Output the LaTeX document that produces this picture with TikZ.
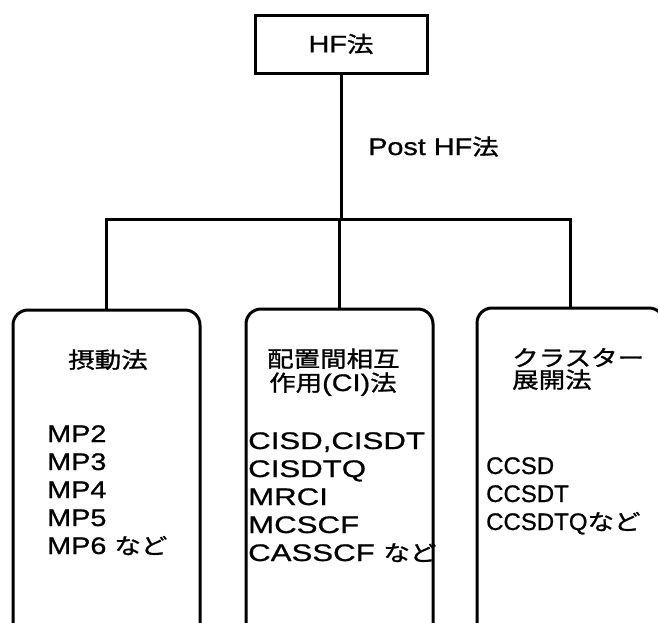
\documentclass[tikz,border=0pt]{standalone}
\usepackage{fontspec}
\setmainfont{Liberation Sans}[FakeStretch = 1.2, FakeBold = 0.8]
\newfontfamily\widefont{Liberation Sans}[FakeStretch = 1.3, FakeBold = 0.8]
\newfontfamily\narrowfont{Liberation Sans}[FakeBold = 0.8]
\newfontfamily\jp{Noto Sans CJK JP}[FakeStretch = 1.2, Scale = 0.92, FakeBold = 1.2]
\usepackage{tikz}
\tikzset{headbox/.style = {shape = rectangle, draw, line width = 3pt, minimum width = 172pt, minimum height = 58pt, inner sep = 0pt, font = \fontsize{24}{28}\selectfont}}
\tikzset{methodbox/.style = {shape = rectangle, draw, line width = 3pt, rounded corners = 15pt, minimum width = 187pt, minimum height = 350pt}}
\tikzset{word/.style = {inner sep = 0pt, font = \fontsize{24}{28}\selectfont}}
\tikzset{link/.style = {-, line width = 3pt}}

\begin{document}
\begin{tikzpicture}[x = 1pt, y = -1pt]
				\useasboundingbox (0, 0) rectangle (658, 622);
				\clip (0, 0) rectangle (658, 622);

				\node[headbox] (hf) at (341, 44) {HF{\jp 法}};
				\node[word, anchor = base west] (post) at (368, 155) {Post HF{\jp 法}};

				\node[methodbox] (pt) at (106.5, 485) {};
				\node[methodbox] (ci) at (339.5, 484) {};
				\node[methodbox] (cc) at (570.5, 483) {};

				% kinds of method
				\node[word, anchor = base] (pttitle) at (108, 368) {\jp 摂動法};
				\node[word, anchor = base west] (cititle) at (267, 367) {\jp 配置間相互};
				\node[word, anchor = base west] (cititleb) at (269, 391) {{\jp 作用}(CI){\jp 法}};
				\node[word, anchor = base west] (cctitle) at (512, 366) {\jp クラスター};
				\node[word, anchor = base west] (cctitleb) at (512, 388) {\jp 展開法};

				% methods in each box
				\foreach \t [count = \i] in {MP2, MP3, MP4, MP5, {MP6 {\jp など}}}
					\node[word, anchor = base west] (mp\i) at (47, {442 + 28*(\i - 1)}) {\t};
				\foreach \t [count = \i] in {{CISD,CISDT}, CISDTQ, MRCI, MCSCF, {CASSCF {\jp など}}}
					\node[word, anchor = base west] (cim\i) at (248, {449 + 28*(\i - 1)}) {\widefont\t};
				\foreach \t [count = \i] in {CCSD, CCSDT, {CCSDTQ{\jp など}}}
					\node[word, anchor = base west] (ccm\i) at (486, {474 + 28*(\i - 1)}) {\narrowfont\t};

				\coordinate (split) at (341, 219);
				\draw[link] (hf) -- (split);
				\draw[link] (pt.north) |- (split) -| (cc.north);
				\draw[link] (ci.north |- split) -- (ci.north);
			\end{tikzpicture}
\end{document}
